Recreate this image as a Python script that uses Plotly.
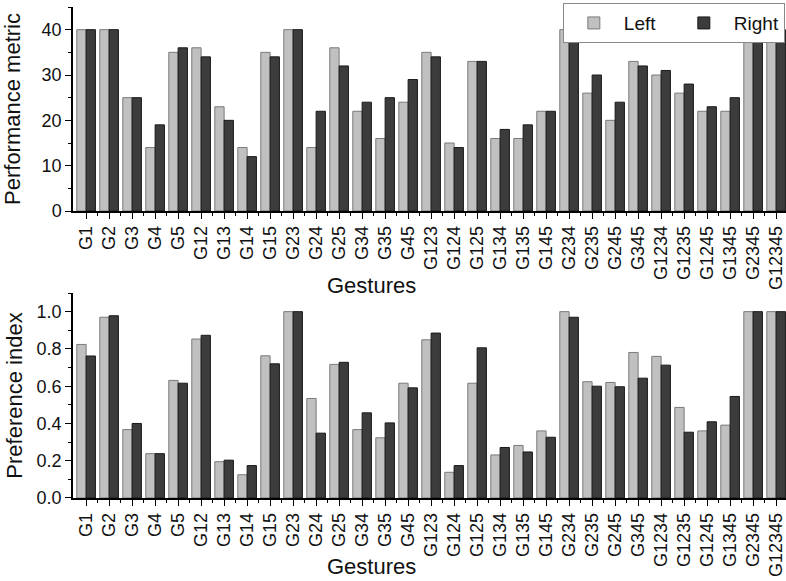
import plotly.graph_objects as go

categories = ["G1", "G2", "G3", "G4", "G5",
              "G12", "G13", "G14", "G15", "G23", "G24", "G25", "G34", "G35", "G45",
              "G123", "G124", "G125", "G134", "G135", "G145", "G234", "G235", "G245", "G345",
              "G1234", "G1235", "G1245", "G1345", "G2345", "G12345"]

perf_left = [40, 40, 25, 14, 35,
             36, 23, 14, 35, 40, 14, 36, 22, 16, 24,
             35, 15, 33, 16, 16, 22, 40, 26, 20, 33,
             30, 26, 22, 22, 40, 40]
perf_right = [40, 40, 25, 19, 36,
              34, 20, 12, 34, 40, 22, 32, 24, 25, 29,
              34, 14, 33, 18, 19, 22, 40, 30, 24, 32,
              31, 28, 23, 25, 40, 40]

pref_left = [0.824, 0.970, 0.367, 0.238, 0.631,
             0.853, 0.195, 0.125, 0.763, 1.0, 0.534, 0.717, 0.367, 0.323, 0.616,
             0.849, 0.138, 0.616, 0.231, 0.282, 0.360, 1.0, 0.624, 0.620, 0.781,
             0.760, 0.486, 0.360, 0.391, 1.0, 1.0]
pref_right = [0.762, 0.978, 0.400, 0.238, 0.616,
              0.873, 0.203, 0.174, 0.720, 1.0, 0.348, 0.728, 0.457, 0.403, 0.591,
              0.885, 0.174, 0.806, 0.271, 0.247, 0.326, 0.970, 0.600, 0.597, 0.643,
              0.713, 0.353, 0.409, 0.545, 1.0, 1.0]

series_names = ["Left", "Right"]
x_title = "Gestures"
y_titles = ["Performance metric", "Preference index"]

FONT = "Liberation Sans, Arial, sans-serif"
LIGHT = "#c0c0c0"
LIGHT_LINE = "#7a7a7a"
DARK = "#3c3c3c"
DARK_LINE = "#1a1a1a"

pos = list(range(len(categories)))
minor_pos = [p + 0.5 for p in pos]

fig = go.Figure()

# top panel
fig.add_trace(go.Bar(x=pos, y=perf_left, name=series_names[0], marker=dict(color=LIGHT, line=dict(color=LIGHT_LINE, width=1)),
                     xaxis="x", yaxis="y", legendgroup="L"))
fig.add_trace(go.Bar(x=pos, y=perf_right, name=series_names[1], marker=dict(color=DARK, line=dict(color=DARK_LINE, width=1)),
                     xaxis="x", yaxis="y", legendgroup="R"))
# bottom panel
fig.add_trace(go.Bar(x=pos, y=pref_left, name=series_names[0], marker=dict(color=LIGHT, line=dict(color=LIGHT_LINE, width=1)),
                     xaxis="x2", yaxis="y2", legendgroup="L", showlegend=False))
fig.add_trace(go.Bar(x=pos, y=pref_right, name=series_names[1], marker=dict(color=DARK, line=dict(color=DARK_LINE, width=1)),
                     xaxis="x2", yaxis="y2", legendgroup="R", showlegend=False))

xcommon = dict(
    range=[-0.57, 30.43], tickmode="array", tickvals=pos, ticktext=categories,
    tickangle=-90, ticks="outside", ticklen=6, tickwidth=1.2, tickcolor="black",
    showline=True, linecolor="black", linewidth=1.5, showgrid=False, zeroline=False,
    ticklabeloverflow="allow",
    tickfont=dict(family=FONT, size=18, color="#111"),
    minor=dict(tickmode="array", tickvals=minor_pos, ticks="outside", ticklen=3, tickwidth=1.2, tickcolor="black"),
)
ycommon = dict(
    ticks="outside", ticklen=6, tickwidth=1.2, tickcolor="black",
    showline=True, linecolor="black", linewidth=1.5, showgrid=False, zeroline=False,
    tickfont=dict(family=FONT, size=18, color="#111"),
)

TOP_DOM = [0.5845, 1.0]
BOT_DOM = [0.0, 0.4175]

fig.update_layout(
    width=786, height=581,
    margin=dict(l=73, r=0, t=7, b=83, autoexpand=False),
    paper_bgcolor="white", plot_bgcolor="white",
    barmode="group", bargap=0.19, bargroupgap=0.0,
    font=dict(family=FONT, color="#111"),
    xaxis=dict(domain=[0, 1], anchor="y", **xcommon),
    xaxis2=dict(domain=[0, 1], anchor="y2", **xcommon),
    yaxis=dict(domain=TOP_DOM, anchor="x", range=[0, 45], dtick=10, tick0=0,
               minor=dict(dtick=5, tick0=0, ticks="outside", ticklen=3, tickwidth=1.2, tickcolor="black"),
               title=dict(text=y_titles[0], font=dict(family=FONT, size=22, color="#111"), standoff=17),
               **ycommon),
    yaxis2=dict(domain=BOT_DOM, anchor="x2", range=[0, 1.1], dtick=0.2, tick0=0, tickformat=".1f",
                minor=dict(dtick=0.1, tick0=0, ticks="outside", ticklen=3, tickwidth=1.2, tickcolor="black"),
                title=dict(text=y_titles[1], font=dict(family=FONT, size=22, color="#111"), standoff=8),
                **ycommon),
    legend=dict(orientation="h", x=0.687, xanchor="left", y=1.008, yanchor="top",
                bordercolor="#888", borderwidth=1, bgcolor="white",
                font=dict(family=FONT, size=19, color="#111"),
                itemwidth=50, entrywidth=45, entrywidthmode="pixels",
                traceorder="normal"),
    annotations=[
        dict(text=x_title, xref="paper", yref="paper", x=0.419, y=0.4338, xanchor="center", yanchor="middle",
             showarrow=False, font=dict(family=FONT, size=22, color="#111")),
        dict(text=x_title, xref="paper", yref="paper", x=0.419, y=-0.1405, xanchor="center", yanchor="middle",
             showarrow=False, font=dict(family=FONT, size=22, color="#111")),
    ],
)

fig.write_html("out.html", config={"displayModeBar": False},
               post_script="document.body.style.margin='0';document.body.style.overflow='hidden';")
